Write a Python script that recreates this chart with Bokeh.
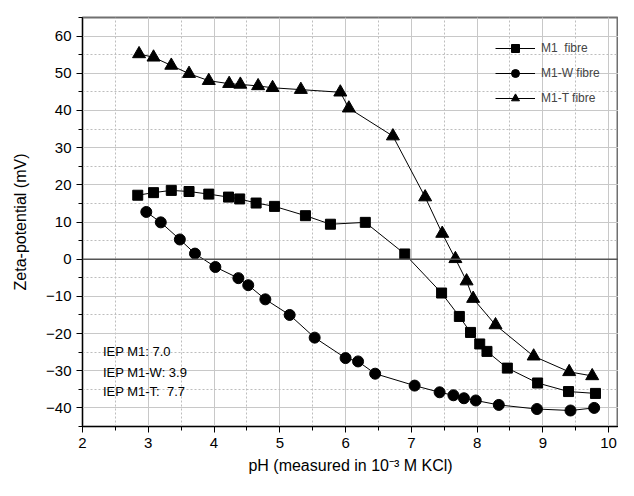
from bokeh.plotting import figure
from bokeh.models import Range1d, SingleIntervalTicker, Legend, LegendItem, Label, Span
from bokeh.embed import file_html
from bokeh.resources import INLINE

# ---- data ----
m1_ph = [2.84, 3.08, 3.35, 3.62, 3.92, 4.22, 4.39, 4.64, 4.92, 5.39, 5.77, 6.30, 6.90,
         7.46, 7.73, 7.90, 8.04, 8.15, 8.46, 8.92, 9.39, 9.80]
m1_zeta = [17.2, 17.9, 18.5, 18.2, 17.5, 16.7, 16.2, 15.1, 14.2, 11.7, 9.4, 9.9, 1.4,
           -9.1, -15.4, -19.7, -22.8, -24.8, -29.3, -33.3, -35.6, -36.1]

m1w_ph = [2.97, 3.19, 3.48, 3.71, 4.02, 4.37, 4.52, 4.78, 5.15, 5.53, 6.00, 6.19, 6.45,
          7.05, 7.43, 7.64, 7.80, 7.98, 8.33, 8.91, 9.42, 9.78]
m1w_zeta = [12.7, 9.9, 5.3, 1.5, -2.1, -5.1, -7.0, -10.8, -15.0, -21.1, -26.6, -27.5, -30.8,
            -34.0, -35.8, -36.6, -37.4, -38.0, -39.2, -40.3, -40.7, -40.0]

m1t_ph = [2.86, 3.08, 3.35, 3.62, 3.92, 4.23, 4.40, 4.67, 4.89, 5.32, 5.92, 6.05, 6.72,
          7.21, 7.47, 7.67, 7.84, 7.94, 8.28, 8.86, 9.40, 9.75]
m1t_zeta = [55.2, 54.3, 52.1, 49.9, 48.0, 47.2, 47.0, 46.6, 46.1, 45.6, 44.9, 40.6, 33.1,
            16.7, 6.9, 0.1, -5.9, -10.6, -17.7, -26.1, -30.3, -31.4]

series_labels = ["M1  fibre", "M1-W fibre", "M1-T fibre"]
iep_texts = ["IEP M1: 7.0", "IEP M1-W: 3.9", "IEP M1-T:\u00a0 7.7"]
iep_text_y = [-24.8, -30.4, -35.5]

FONT = "Liberation Sans"

p = figure(width=618, height=480, output_backend="svg", toolbar_location=None,
           x_range=Range1d(2, 10.15), y_range=Range1d(-45, 65),
           min_border_left=82, min_border_right=0, min_border_top=17, min_border_bottom=54)

p.background_fill_color = "white"
p.border_fill_color = "white"
p.outline_line_color = "#707070"
p.outline_line_width = 2

p.xaxis.ticker = SingleIntervalTicker(interval=1, num_minor_ticks=2)
p.yaxis.ticker = SingleIntervalTicker(interval=10, num_minor_ticks=2)

for ax in (p.xaxis, p.yaxis):
    ax.axis_line_color = "black"
    ax.axis_line_width = 1
    ax.major_tick_line_color = "black"
    ax.minor_tick_line_color = "black"
    ax.major_tick_out = 6
    ax.major_tick_in = 0
    ax.minor_tick_out = 4
    ax.minor_tick_in = 0
    ax.major_label_text_font = FONT
    ax.major_label_text_font_size = "15px"
    ax.major_label_text_color = "black"
    ax.axis_label_text_font = FONT
    ax.axis_label_text_font_size = "16px"
    ax.axis_label_text_font_style = "normal"
    ax.axis_label_text_color = "black"

p.xaxis.axis_label = "pH (measured in 10\u207b\u00b3 M KCl)"
p.yaxis.axis_label = "Zeta-potential (mV)"
p.xaxis.axis_label_standoff = 6
p.yaxis.axis_label_standoff = 14
p.xaxis.major_label_standoff = 5

for g in (p.xgrid, p.ygrid):
    g.grid_line_color = "#c8c8c8"
    g.grid_line_width = 1
    g.minor_grid_line_color = "#bdbdbd"
    g.minor_grid_line_dash = "2 2"
    g.minor_grid_line_width = 1

p.add_layout(Span(location=0, dimension="width", line_color="#555555", line_width=1.5))

r1l = p.line(m1_ph, m1_zeta, line_color="black", line_width=1)
r1s = p.scatter(m1_ph, m1_zeta, marker="square", size=10, fill_color="black", line_color="black")
r2l = p.line(m1w_ph, m1w_zeta, line_color="black", line_width=1)
r2s = p.scatter(m1w_ph, m1w_zeta, marker="circle", size=11, fill_color="black", line_color="black")
r3l = p.line(m1t_ph, m1t_zeta, line_color="black", line_width=1)
r3s = p.scatter(m1t_ph, m1t_zeta, marker="triangle", size=13, fill_color="black", line_color="black")

legend = Legend(items=[
    LegendItem(label=series_labels[0], renderers=[r1l, r1s]),
    LegendItem(label=series_labels[1], renderers=[r2l, r2s]),
    LegendItem(label=series_labels[2], renderers=[r3l, r3s]),
], location=(413, 318))
legend.border_line_color = None
legend.background_fill_alpha = 0
legend.label_text_font = FONT
legend.label_text_font_size = "12px"
legend.glyph_width = 40
legend.glyph_height = 20
legend.spacing = 5
legend.padding = 0
legend.margin = 0
legend.label_standoff = 6
p.add_layout(legend, "center")

for t, yy in zip(iep_texts, iep_text_y):
    p.add_layout(Label(x=2.31, y=yy, text=t, text_font=FONT, text_font_size="13px",
                       text_baseline="middle", text_color="black"))

open("out.html", "w").write(file_html(p, INLINE))
